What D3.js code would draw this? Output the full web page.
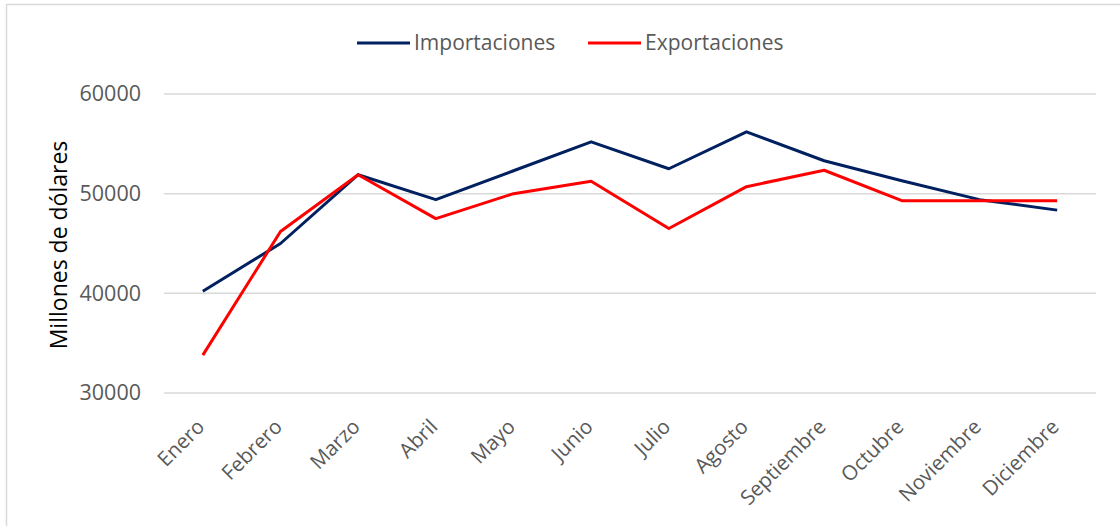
<!DOCTYPE html>
<html>
<head>
<meta charset="utf-8">
<script src="https://cdn.jsdelivr.net/npm/d3@7"></script>
<style>
  body { margin: 0; background: #fff; }
  svg { display: block; font-family: "Open Sans", sans-serif; }
</style>
</head>
<body>
<div id="chart"></div>
<script>
// data
const meses = ["Enero", "Febrero", "Marzo", "Abril", "Mayo", "Junio", "Julio",
  "Agosto", "Septiembre", "Octubre", "Noviembre", "Diciembre"];
const importaciones = [40200, 45000, 51900, 49400, 52300, 55200, 52500, 56200, 53300, 51300, 49400, 48350];
const exportaciones = [33800, 46200, 51900, 47500, 50000, 51250, 46500, 50700, 52350, 49300, 49300, 49300];
const yTicks = [30000, 40000, 50000, 60000];

const series = [
  {name: "Importaciones", values: importaciones, color: "#002060"},
  {name: "Exportaciones", values: exportaciones, color: "#FF0000"}
];

const width = 1120, height = 526;
const margin = {top: 94, right: 24, bottom: 133, left: 164};

const svg = d3.select("#chart").append("svg")
  .attr("width", width)
  .attr("height", height)
  .attr("viewBox", [0, 0, width, height]);

// chart frame
svg.append("rect")
  .attr("x", 6.5).attr("y", 4.5)
  .attr("width", width + 20).attr("height", height + 20)
  .attr("fill", "none")
  .attr("stroke", "#d9d9d9")
  .attr("stroke-width", 1.5);

const x = d3.scaleBand()
  .domain(meses)
  .range([margin.left, width - margin.right]);

const y = d3.scaleLinear()
  .domain([30000, 60000])
  .range([height - margin.bottom, margin.top]);

// gridlines
svg.append("g")
  .selectAll("line")
  .data(yTicks)
  .join("line")
  .attr("x1", margin.left)
  .attr("x2", width - margin.right)
  .attr("y1", d => y(d))
  .attr("y2", d => y(d))
  .attr("stroke", "#d9d9d9")
  .attr("stroke-width", 1.5);

// y axis labels
const yAxis = d3.axisLeft(y).tickValues(yTicks).tickSize(0).tickPadding(23).tickFormat(d3.format("d"));
svg.append("g")
  .attr("transform", `translate(${margin.left},0)`)
  .call(yAxis)
  .call(g => g.select(".domain").remove())
  .call(g => g.selectAll("text")
    .attr("fill", "#595959")
    .style("font-size", "21.5px")
    .style("font-family", "'Open Sans', sans-serif"));

// x axis labels, rotated
const xAxis = d3.axisBottom(x).tickSize(0).tickPadding(0);
svg.append("g")
  .attr("transform", `translate(0,${height - margin.bottom})`)
  .call(xAxis)
  .call(g => g.select(".domain").remove())
  .call(g => g.selectAll("text")
    .attr("fill", "#595959")
    .style("font-size", "20.5px")
    .style("font-family", "'Open Sans', sans-serif")
    .attr("text-anchor", "end")
    .attr("dy", null)
    .attr("transform", "translate(3,35) rotate(-45)"));

// y axis title
svg.append("text")
  .attr("transform", `translate(67,245) rotate(-90)`)
  .attr("text-anchor", "middle")
  .attr("fill", "#000")
  .style("font-size", "23px")
  .text("Millones de dólares");

// lines
const line = d3.line()
  .x((d, i) => x(meses[i]) + x.bandwidth() / 2)
  .y(d => y(d));

svg.append("g")
  .selectAll("path")
  .data(series)
  .join("path")
  .attr("d", d => line(d.values))
  .attr("fill", "none")
  .attr("stroke", d => d.color)
  .attr("stroke-width", 3)
  .attr("stroke-linejoin", "round");

// legend
const legendX = [357, 588];
const legend = svg.append("g")
  .selectAll("g")
  .data(series)
  .join("g")
  .attr("transform", (d, i) => `translate(${legendX[i]},43)`);

legend.append("line")
  .attr("x1", 0).attr("x2", 53)
  .attr("stroke", d => d.color)
  .attr("stroke-width", 3);

legend.append("text")
  .attr("x", 57)
  .attr("dy", "0.35em")
  .attr("fill", "#595959")
  .style("font-size", "21px")
  .text(d => d.name);
</script>
</body>
</html>
